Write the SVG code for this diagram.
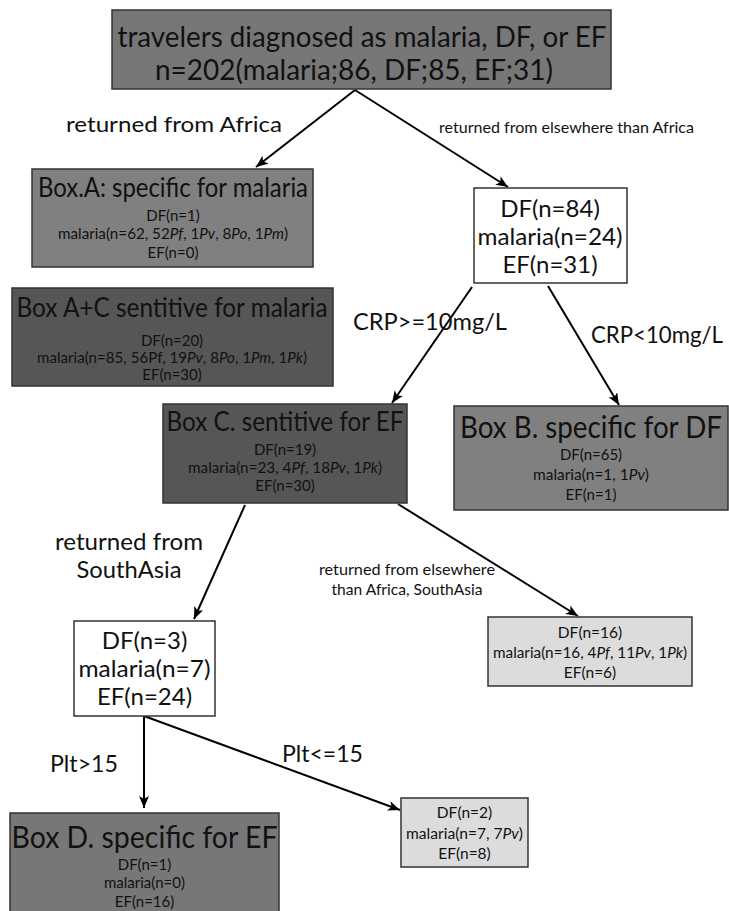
<svg xmlns="http://www.w3.org/2000/svg" width="729" height="911" viewBox="0 0 729 911">
<defs>
<style>
text{font-family:Lato,"Open Sans","DejaVu Sans",sans-serif;fill:#111;text-anchor:middle}
.box{stroke:#333;stroke-width:1.5}
.g1{fill:#777777}.g2{fill:#808080}.g3{fill:#565656}.lt{fill:#dcdcdc}.wh{fill:#ffffff}
.t{font-size:27px}.m{font-size:24px}.s{font-size:15px}.s2{font-size:15.5px}
.l{text-anchor:start}
.e{stroke:#000;stroke-width:2;fill:none;marker-end:url(#ah)}
</style>
<marker id="ah" markerUnits="userSpaceOnUse" markerWidth="13" markerHeight="11" refX="12" refY="5" orient="auto">
<path d="M0,0 L12,5 L0,10 L3,5 z" fill="#000"/>
</marker>
</defs>

<g id="edges">
<line class="e" x1="355" y1="90" x2="256" y2="167"/>
<line class="e" x1="355" y1="90" x2="508" y2="187"/>
<line class="e" x1="472" y1="287" x2="392" y2="403"/>
<line class="e" x1="548" y1="286" x2="619" y2="405"/>
<line class="e" x1="245" y1="505" x2="194" y2="619"/>
<line class="e" x1="398" y1="504" x2="578" y2="616"/>
<line class="e" x1="144" y1="716" x2="144" y2="808"/>
<line class="e" x1="144" y1="716" x2="400" y2="810"/>
</g>

<g id="edge-labels">
<text class="l" x="66" y="132" font-size="22" textLength="216" lengthAdjust="spacingAndGlyphs">returned from Africa</text>
<text class="l" x="439" y="133" font-size="15" textLength="255" lengthAdjust="spacingAndGlyphs">returned from elsewhere than Africa</text>
<text class="l m" x="353" y="330" textLength="154" lengthAdjust="spacingAndGlyphs">CRP&gt;=10mg/L</text>
<text class="l m" x="591" y="343" textLength="132" lengthAdjust="spacingAndGlyphs">CRP&lt;10mg/L</text>
<text class="m" x="129" y="550" textLength="148" lengthAdjust="spacingAndGlyphs">returned from</text>
<text class="m" x="129" y="578" textLength="105" lengthAdjust="spacingAndGlyphs">SouthAsia</text>
<text class="s" x="407" y="575" textLength="176" lengthAdjust="spacingAndGlyphs">returned from elsewhere</text>
<text class="s" x="407" y="595" textLength="151" lengthAdjust="spacingAndGlyphs">than Africa, SouthAsia</text>
<text class="l m" x="50" y="772" textLength="68" lengthAdjust="spacingAndGlyphs">Plt&gt;15</text>
<text class="l m" x="282" y="762" textLength="81" lengthAdjust="spacingAndGlyphs">Plt&lt;=15</text>
</g>

<g id="root">
<rect class="box g1" x="112" y="10" width="499" height="79"/>
<text x="362" y="47" font-size="29" textLength="489" lengthAdjust="spacingAndGlyphs">travelers diagnosed as malaria, DF, or EF</text>
<text x="354" y="80" font-size="29" textLength="398" lengthAdjust="spacingAndGlyphs">n=202(malaria;86, DF;85, EF;31)</text>
</g>

<g id="boxA">
<rect class="box g2" x="32" y="169" width="281" height="98"/>
<text class="t" x="173" y="197" textLength="270" lengthAdjust="spacingAndGlyphs">Box.A: specific for malaria</text>
<text class="s" x="173" y="221">DF(n=1)</text>
<text class="s" x="173" y="239" textLength="230" lengthAdjust="spacingAndGlyphs">malaria(n=62, 52<tspan font-style="italic">Pf</tspan>, 1<tspan font-style="italic">Pv</tspan>, 8<tspan font-style="italic">Po</tspan>, 1<tspan font-style="italic">Pm</tspan>)</text>
<text class="s" x="173" y="258">EF(n=0)</text>
</g>

<g id="boxAC">
<rect class="box g3" x="12" y="288" width="321" height="98"/>
<text class="t" x="172" y="317" textLength="311" lengthAdjust="spacingAndGlyphs">Box A+C sentitive for malaria</text>
<text class="s" x="172" y="346">DF(n=20)</text>
<text class="s" x="172" y="363" textLength="270" lengthAdjust="spacingAndGlyphs">malaria(n=85, 56Pf, 19<tspan font-style="italic">Pv</tspan>, 8<tspan font-style="italic">Po</tspan>, 1<tspan font-style="italic">Pm</tspan>, 1<tspan font-style="italic">Pk</tspan>)</text>
<text class="s" x="172" y="380">EF(n=30)</text>
</g>

<g id="nonAfrica">
<rect class="box wh" x="474" y="188" width="153" height="95"/>
<text class="m" x="550" y="217">DF(n=84)</text>
<text class="m" x="550" y="245" textLength="145" lengthAdjust="spacingAndGlyphs">malaria(n=24)</text>
<text class="m" x="550" y="273">EF(n=31)</text>
</g>

<g id="boxC">
<rect class="box g3" x="163" y="404" width="244" height="99"/>
<text class="t" x="285" y="431" textLength="237" lengthAdjust="spacingAndGlyphs">Box C. sentitive for EF</text>
<text class="s" x="285" y="455">DF(n=19)</text>
<text class="s" x="285" y="473" textLength="194" lengthAdjust="spacingAndGlyphs">malaria(n=23, 4<tspan font-style="italic">Pf</tspan>, 18<tspan font-style="italic">Pv</tspan>, 1<tspan font-style="italic">Pk</tspan>)</text>
<text class="s" x="285" y="491">EF(n=30)</text>
</g>

<g id="boxB">
<rect class="box g2" x="454" y="406" width="274" height="104"/>
<text x="591" y="438" font-size="30" textLength="262" lengthAdjust="spacingAndGlyphs">Box B. specific for DF</text>
<text class="s" x="591" y="460">DF(n=65)</text>
<text class="s" x="591" y="480" textLength="116" lengthAdjust="spacingAndGlyphs">malaria(n=1, 1<tspan font-style="italic">Pv</tspan>)</text>
<text class="s" x="591" y="500">EF(n=1)</text>
</g>

<g id="southAsia">
<rect class="box wh" x="74" y="621" width="141" height="95"/>
<text class="m" x="144.5" y="649">DF(n=3)</text>
<text class="m" x="144.5" y="677" textLength="132" lengthAdjust="spacingAndGlyphs">malaria(n=7)</text>
<text class="m" x="144.5" y="705">EF(n=24)</text>
</g>

<g id="elsewhere2">
<rect class="box lt" x="488" y="617" width="204" height="69"/>
<text class="s2" x="590" y="638">DF(n=16)</text>
<text class="s2" x="590" y="658" textLength="194" lengthAdjust="spacingAndGlyphs">malaria(n=16, 4<tspan font-style="italic">Pf</tspan>, 11<tspan font-style="italic">Pv</tspan>, 1<tspan font-style="italic">Pk</tspan>)</text>
<text class="s2" x="590" y="678">EF(n=6)</text>
</g>

<g id="boxD">
<rect class="box g1" x="10" y="813" width="269" height="110"/>
<text x="144.5" y="848" font-size="30" textLength="266" lengthAdjust="spacingAndGlyphs">Box D. specific for EF</text>
<text class="s" x="144.5" y="870">DF(n=1)</text>
<text class="s" x="144.5" y="888">malaria(n=0)</text>
<text class="s" x="144.5" y="907">EF(n=16)</text>
</g>

<g id="pltLow">
<rect class="box lt" x="401" y="798" width="127" height="69"/>
<text class="s2" x="464.5" y="818">DF(n=2)</text>
<text class="s2" x="464.5" y="839" textLength="117" lengthAdjust="spacingAndGlyphs">malaria(n=7, 7<tspan font-style="italic">Pv</tspan>)</text>
<text class="s2" x="464.5" y="859">EF(n=8)</text>
</g>
</svg>
